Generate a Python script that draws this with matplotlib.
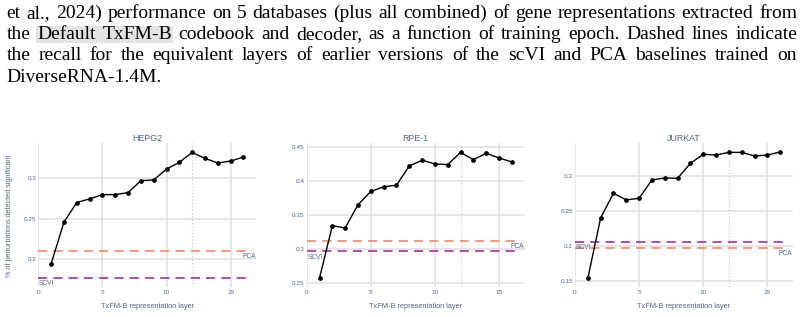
import matplotlib
matplotlib.use("Agg")
import matplotlib.pyplot as plt
from matplotlib.patches import Rectangle

# ---- data ----
layers = list(range(1, 17))
hepg2 = [0.194, 0.2457, 0.270, 0.2745, 0.2798, 0.2798, 0.2823, 0.297,
         0.298, 0.3115, 0.3198, 0.332, 0.3247, 0.319, 0.3214, 0.3263]
rpe1 = [0.2569, 0.3343, 0.3309, 0.3652, 0.3848, 0.3917, 0.3941, 0.4225,
        0.4309, 0.4255, 0.4245, 0.4426, 0.4319, 0.4412, 0.4343, 0.4284]
jurkat = [0.1533, 0.240, 0.2752, 0.2657, 0.2681, 0.2943, 0.2971, 0.2967,
          0.3181, 0.331, 0.330, 0.3338, 0.3338, 0.3286, 0.330, 0.3343]
titles = ["HEPG2", "RPE-1", "JURKAT"]
pca_ref = [0.210, 0.3122, 0.1971]
scvi_ref = [0.176, 0.2961, 0.2052]
best_layer = 12
yticks = [[0.2, 0.25, 0.3], [0.25, 0.3, 0.35, 0.4, 0.45], [0.15, 0.2, 0.25, 0.3]]
yticklabels = [["0.2", "0.25", "0.3"], ["0.25", "0.3", "0.35", "0.4", "0.45"],
               ["0.15", "0.2", "0.25", "0.3"]]
ylims = [(0.1653, 0.3434), (0.2436, 0.456), (0.141, 0.3468)]
xticks = [0, 5, 10, 15]

caption_lines = [
    "et al., 2024) performance on 5 databases (plus all combined) of gene representations extracted from",
    "the Default TxFM-B codebook and decoder, as a function of training epoch. Dashed lines indicate",
    "the recall for the equivalent layers of earlier versions of the scVI and PCA baselines trained on",
    "DiverseRNA-1.4M.",
]

W, H = 805, 317
fig = plt.figure(figsize=(W / 100, H / 100), dpi=100)
plt.rcParams['font.family'] = ['Liberation Sans', 'DejaVu Sans']

txt_col = '#506784'
grid_col = '#e2e2e2'
pca_col = '#fa7a55'
scvi_col = '#9c1a9f'

lefts = [38.3, 306.7, 575]
top, bottom = 143.3, 287
aw = 218
series = [hepg2, rpe1, jurkat]

for i in range(3):
    ax = fig.add_axes([lefts[i] / W, 1 - bottom / H, aw / W, (bottom - top) / H])
    ax.set_xlim(0, 17)
    ax.set_ylim(*ylims[i])
    for s in ax.spines.values():
        s.set_visible(False)
    ax.set_axisbelow(True)
    ax.grid(True, color=grid_col, lw=1.2)
    ax.set_xticks(xticks)
    ax.set_yticks(yticks[i])
    ax.set_yticklabels(yticklabels[i])
    ax.tick_params(length=0, labelsize=4.6, colors=txt_col)
    ax.tick_params(axis='y', pad=1.5)
    ax.tick_params(axis='x', pad=2.5)

    ax.axvline(best_layer, color='#c4c4c4', lw=0.8, ls=(0, (1, 2)), zorder=1)
    ax.hlines(pca_ref[i], 0, 16.7, color=pca_col, lw=1.1, ls=(0, (6, 4)), zorder=2)
    ax.hlines(scvi_ref[i], 0, 16.7, color=scvi_col, lw=1.1, ls=(0, (6, 4)), zorder=2)
    ax.annotate("PCA", (16.95, pca_ref[i]), xytext=(0, -1.5), textcoords='offset points',
                ha='right', va='top', fontsize=4.8, color=txt_col)
    ax.annotate("SCVI", (0.05, scvi_ref[i]), xytext=(0, -1.5), textcoords='offset points',
                ha='left', va='top', fontsize=4.8, color=txt_col)

    ax.plot(layers, series[i], color='black', lw=1.0, marker='o', ms=2.4, zorder=3)
    ax.set_title(titles[i], fontsize=6.4, color=txt_col, pad=2)
    ax.set_xlabel("TxFM-B representation layer", fontsize=5.3, color=txt_col)
    ax.xaxis.set_label_coords(0.5, (bottom - 306.7) / (bottom - top))
    ax.xaxis.label.set_va('center')

fig.text(10 / W, 1 - 216 / H, "% of perturbations detected significant", rotation=90,
         ha='center', va='center', fontsize=5.2, color=txt_col)

# ---- caption text above the charts (justified) ----
fig.canvas.draw()
rend = fig.canvas.get_renderer()
cap_size = 14.0
left_px, right_px = 6.7, 797
baselines = [18.3, 39.3, 60.0, 81.7]
placed = []
for j, line in enumerate(caption_lines):
    words = line.split(" ")
    objs = [fig.text(0, 1 - baselines[j] / H, w, fontsize=cap_size, family='Liberation Serif',
                     va='baseline', ha='left', color='black') for w in words]
    widths = [t.get_window_extent(rend).width for t in objs]
    if j < 3 and len(words) > 1:
        gap = (right_px - left_px - sum(widths)) / (len(words) - 1)
    else:
        gap = cap_size * 0.25 * 100 / 72
    x = left_px
    for t, w in zip(objs, widths):
        t.set_x(x / W)
        x += w + gap
    placed.append((objs, widths))

# grey highlight behind "Default TxFM-B"
objs, widths = placed[1]
x0 = objs[1].get_position()[0] * W - 1.5
x1 = objs[2].get_position()[0] * W + widths[2] + 1.5
fig.patches.append(Rectangle((x0 / W, 1 - 42.7 / H), (x1 - x0) / W, 16.7 / H,
                             transform=fig.transFigure, facecolor='#e4e4e4',
                             edgecolor='none', zorder=-1))

fig.savefig("out.png", dpi=100)
